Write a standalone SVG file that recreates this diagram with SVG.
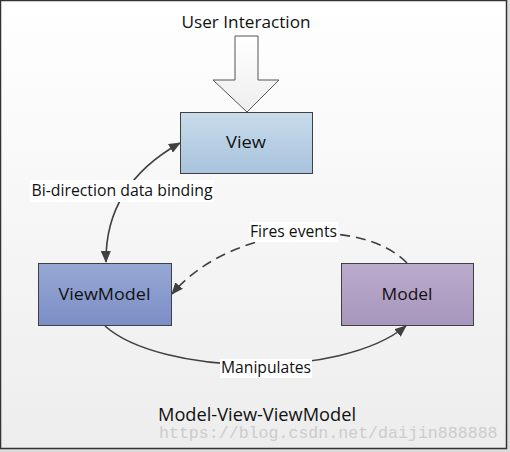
<svg xmlns="http://www.w3.org/2000/svg" width="510" height="452" viewBox="0 0 510 452">
<defs>
<linearGradient id="bg" x1="0" y1="0" x2="0" y2="1"><stop offset="0" stop-color="#ffffff"/><stop offset="1" stop-color="#ededed"/></linearGradient>
<linearGradient id="gView" x1="0" y1="0" x2="0" y2="1"><stop offset="0" stop-color="#c8dbeb"/><stop offset="1" stop-color="#a8c3dc"/></linearGradient>
<linearGradient id="gVM" x1="0" y1="0" x2="0" y2="1"><stop offset="0" stop-color="#98a8d4"/><stop offset="1" stop-color="#7b8ec6"/></linearGradient>
<linearGradient id="gM" x1="0" y1="0" x2="0" y2="1"><stop offset="0" stop-color="#bbabcd"/><stop offset="1" stop-color="#a796bc"/></linearGradient>
<linearGradient id="gArrow" x1="0" y1="0" x2="0" y2="1"><stop offset="0" stop-color="#ffffff"/><stop offset="1" stop-color="#eeeeee"/></linearGradient>
<marker id="ah" viewBox="0 0 12 10" refX="11" refY="5" markerWidth="12" markerHeight="10" markerUnits="userSpaceOnUse" orient="auto">
<path d="M0,0 L12,5 L0,10 Z" fill="#404040"/>
</marker>
<marker id="ahs" viewBox="0 0 12 10" refX="1" refY="5" markerWidth="12" markerHeight="10" markerUnits="userSpaceOnUse" orient="auto">
<path d="M12,0 L0,5 L12,10 Z" fill="#404040"/>
</marker>
<style>
.box{stroke:#404040;stroke-width:1}
.t{font-family:"Open Sans","Noto Sans","DejaVu Sans",sans-serif;fill:#111;text-anchor:middle}
.lbl{fill:#ffffff}
.conn{fill:none;stroke:#404040;stroke-width:1.6}
</style>
</defs>
<rect x="0" y="0" width="510" height="452" fill="#dcdcdc"/>
<rect x="0.5" y="0.5" width="506" height="448" fill="url(#bg)" stroke="#333" stroke-width="1.5"/>

<g id="user-interaction">
<text class="t" x="246" y="28" font-size="17" textLength="129" lengthAdjust="spacingAndGlyphs">User Interaction</text>
<path d="M235,36 L258,36 L258,80 L279,80 L247,112 L213,80 L235,80 Z" fill="url(#gArrow)" stroke="#555" stroke-width="1"/>
</g>

<g id="connectors">
<path class="conn" d="M180,143 Q105,185 106,262" marker-start="url(#ahs)" marker-end="url(#ah)"/>
<path class="conn" d="M407,263 C360,215 230,225 172,294" stroke-dasharray="10,6" marker-end="url(#ah)"/>
<path class="conn" d="M105,326 C160,375 340,380 406,326" marker-end="url(#ah)"/>
</g>

<g id="view">
<rect class="box" x="180.5" y="112.5" width="132" height="61" fill="url(#gView)"/>
<text class="t" x="246" y="148" font-size="17" textLength="40" lengthAdjust="spacingAndGlyphs">View</text>
</g>
<g id="viewmodel">
<rect class="box" x="38.5" y="263.5" width="133" height="62" fill="url(#gVM)"/>
<text class="t" x="104.5" y="299.5" font-size="17" textLength="92" lengthAdjust="spacingAndGlyphs">ViewModel</text>
</g>
<g id="model">
<rect class="box" x="341.5" y="263.5" width="132" height="62" fill="url(#gM)"/>
<text class="t" x="407" y="300" font-size="17" textLength="51" lengthAdjust="spacingAndGlyphs">Model</text>
</g>

<g id="labels">
<rect class="lbl" x="30" y="180" width="184" height="22"/>
<text class="t" x="122" y="196" font-size="16" textLength="181" lengthAdjust="spacingAndGlyphs">Bi-direction data binding</text>
<rect class="lbl" x="249" y="222" width="89" height="20"/>
<text class="t" x="293.5" y="237" font-size="16" textLength="87" lengthAdjust="spacingAndGlyphs">Fires events</text>
<rect class="lbl" x="220" y="359" width="92" height="19"/>
<text class="t" x="266" y="373" font-size="16" textLength="90" lengthAdjust="spacingAndGlyphs">Manipulates</text>
</g>

<text class="t" x="257" y="421" font-size="18" textLength="198" lengthAdjust="spacingAndGlyphs">Model-View-ViewModel</text>
<text x="159" y="438" font-family="'Liberation Mono',monospace" font-size="16.6" fill="#cccccc">https://blog.csdn.net/daijin888888</text>
</svg>
